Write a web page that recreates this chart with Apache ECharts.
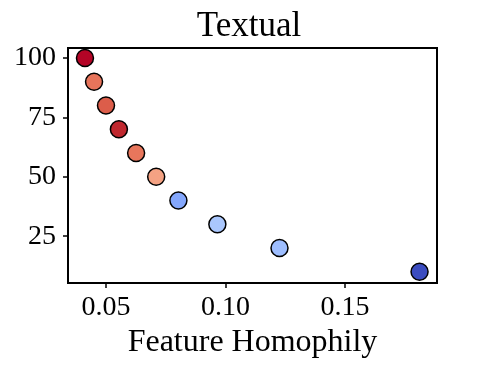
<!DOCTYPE html>
<html>
<head>
<meta charset="utf-8">
<script src="https://cdn.jsdelivr.net/npm/echarts@6/dist/echarts.min.js"></script>
<style>html,body{margin:0;padding:0;background:#fff}#c{width:498px;height:370px}</style>
</head>
<body>
<div id="c"></div>
<script>
const titleText = "Textual";
const xName = "Feature Homophily";
const featureHomophily = [0.0412, 0.0450, 0.0500, 0.0554, 0.0626, 0.0710, 0.0803, 0.0966, 0.1226, 0.1812];
const yValues = [100, 90, 80, 70, 60, 50, 40, 30, 20, 10];
const pointColors = ["#b40426", "#e7745b", "#dc5d4a", "#c0282f", "#e8765c", "#f4a283", "#84a7fc", "#aac7fd", "#9ebeff", "#3b4cc0"];
const xTicks = [0.05, 0.10, 0.15];
const yTicks = [25, 50, 75, 100];

const font = "Liberation Serif";
const chart = echarts.init(document.getElementById('c'));
chart.setOption({
  animation: false,
  backgroundColor: '#fff',
  title: {
    text: titleText, left: 'center', top: 4,
    textStyle: {fontFamily: font, fontSize: 35, fontWeight: 'normal', color: '#000'}
  },
  grid: {left: 68, right: 61, top: 48, bottom: 87, show: true, borderColor: '#000', borderWidth: 2},
  xAxis: {
    type: 'value', min: 0.0341, max: 0.1885,
    name: xName, nameLocation: 'middle', nameGap: 41,
    nameTextStyle: {fontFamily: font, fontSize: 32, color: '#000'},
    splitLine: {show: false},
    axisLine: {show: true, lineStyle: {color: '#000', width: 2}},
    axisTick: {show: true, customValues: xTicks, length: 5, lineStyle: {color: '#000', width: 1.5}},
    axisLabel: {customValues: xTicks, margin: 11, fontFamily: font, fontSize: 28, color: '#000',
      formatter: v => v.toFixed(2)}
  },
  yAxis: {
    type: 'value', min: 5.3, max: 104.2,
    splitLine: {show: false},
    axisLine: {show: true, lineStyle: {color: '#000', width: 2}},
    axisTick: {show: true, customValues: yTicks, length: 5, lineStyle: {color: '#000', width: 1.5}},
    axisLabel: {customValues: yTicks, margin: 12, fontFamily: font, fontSize: 28, color: '#000'}
  },
  series: [{
    type: 'scatter',
    symbolSize: 17,
    data: featureHomophily.map((x, i) => ({
      value: [x, yValues[i]],
      itemStyle: {color: pointColors[i]}
    })),
    itemStyle: {borderColor: '#000', borderWidth: 1.5, opacity: 1}
  }]
});
</script>
</body>
</html>
